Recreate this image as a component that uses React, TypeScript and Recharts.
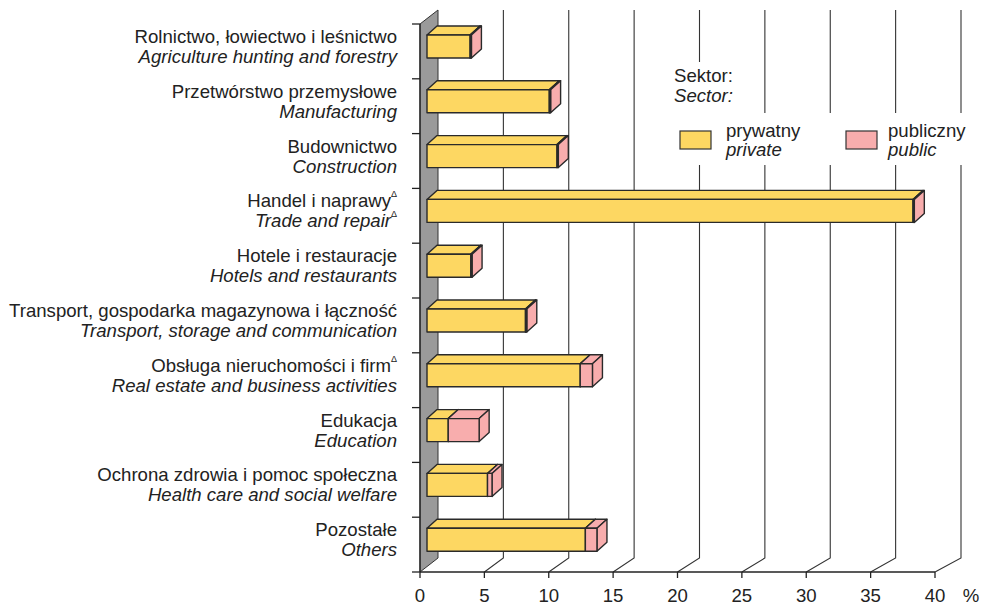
import React from "react";
import { BarChart, Bar, XAxis, YAxis, CartesianGrid, Legend } from "recharts";

document.body.style.margin = "0";
document.body.style.overflow = "hidden";

const SECTORS_PL = [
  "Rolnictwo, łowiectwo i leśnictwo",
  "Przetwórstwo przemysłowe",
  "Budownictwo",
  "Handel i naprawy",
  "Hotele i restauracje",
  "Transport, gospodarka magazynowa i łączność",
  "Obsługa nieruchomości i firm",
  "Edukacja",
  "Ochrona zdrowia i pomoc społeczna",
  "Pozostałe",
];
const SECTORS_EN = [
  "Agriculture hunting and forestry",
  "Manufacturing",
  "Construction",
  "Trade and repair",
  "Hotels and restaurants",
  "Transport, storage and communication",
  "Real estate and business activities",
  "Education",
  "Health care and social welfare",
  "Others",
];
// which lines carry the small triangle mark: [polish, english]
const MARKS: [boolean, boolean][] = [
  [false, false], [false, false], [false, false], [true, true], [false, false],
  [false, false], [true, false], [false, false], [false, false], [false, false],
];
const PRIVATE = [3.35, 9.5, 10.1, 37.75, 3.4, 7.65, 11.9, 1.65, 4.7, 12.3];
const PUBLIC = [0.1, 0.1, 0.1, 0.1, 0.1, 0.1, 0.95, 2.4, 0.35, 0.9];
const X_TICKS = [0, 5, 10, 15, 20, 25, 30, 35, 40];

const LEGEND_TITLE = ["Sektor:", "Sector:"];
const LEGEND_PL = ["prywatny", "publiczny"];
const LEGEND_EN = ["private", "public"];

const YELLOW = "#fdd762";
const PINK = "#f8adad";
const INK = "#222";
const FONT = "'Liberation Sans', Arial, sans-serif";
const FS = 18.6;

const W = 981;
const H = 606;
const PLOT_LEFT = 420;
const PLOT_RIGHT = 935;
const PLOT_TOP = 24;
const PLOT_BOTTOM = 572;
const BAND = (PLOT_BOTTOM - PLOT_TOP) / SECTORS_PL.length;

// 3D depth of the back wall and of the bars
const WALL_DX = 18;
const WALL_DX_EXTRA = 8;
const WALL_DY = 14;
const BAR_DX = 10;
const BAR_DY = 9;

const data = SECTORS_PL.map((name, i) => ({
  name,
  private: PRIVATE[i],
  public: PUBLIC[i],
}));

function Box(props: any) {
  const { x, y, width, height, fill } = props;
  if (x == null || width == null || !(width > 0)) return null;
  const fx = x + 7;
  const fy = y - 5;
  const w = width;
  const h = height;
  const top = `${fx},${fy} ${fx + BAR_DX},${fy - BAR_DY} ${fx + w + BAR_DX},${fy - BAR_DY} ${fx + w},${fy}`;
  const side = `${fx + w},${fy} ${fx + w + BAR_DX},${fy - BAR_DY} ${fx + w + BAR_DX},${fy + h - BAR_DY} ${fx + w},${fy + h}`;
  return (
    <g stroke="#2a2a2a" strokeWidth={1.4} strokeLinejoin="round">
      <polygon points={top} fill={fill} />
      <polygon points={side} fill={fill} />
      <rect x={fx} y={fy} width={w} height={h} fill={fill} />
    </g>
  );
}

function GridLine(props: any) {
  const { x1, y1, y2 } = props;
  if (x1 == null) return <g />;
  const t = (x1 - PLOT_LEFT) / (PLOT_RIGHT - PLOT_LEFT);
  const dx = WALL_DX + t * WALL_DX_EXTRA;
  if (Math.abs(x1 - PLOT_LEFT) < 0.5) {
    return (
      <polygon
        points={`${x1},${y1} ${x1 + dx},${y1 - WALL_DY} ${x1 + dx},${y2 - WALL_DY} ${x1},${y2}`}
        fill="#9a9a9a"
        stroke="#333"
        strokeWidth={1}
      />
    );
  }
  return (
    <polyline
      points={`${x1 + dx},${y1 - WALL_DY} ${x1 + dx},${y2 - WALL_DY} ${x1},${y2}`}
      fill="none"
      stroke="#333"
      strokeWidth={1.1}
    />
  );
}

function XTick(props: any) {
  const { x, y, payload, index } = props;
  const last = index === X_TICKS.length - 1;
  return (
    <g>
      <line x1={x} y1={y} x2={x} y2={y + 6} stroke={INK} strokeWidth={1.3} />
      <text x={x} y={y + 30} textAnchor="middle" fontSize={FS} fontFamily={FONT} fill={INK}>
        {payload.value}
      </text>
      {last && (
        <text x={x + 36} y={y + 30} textAnchor="middle" fontSize={FS} fontFamily={FONT} fill={INK}>
          %
        </text>
      )}
    </g>
  );
}

function YTick(props: any) {
  const { x, y, index } = props;
  const i = index as number;
  const tx = x - 23;
  const [m1, m2] = MARKS[i];
  return (
    <g>
      <line x1={x - 8} y1={y - BAND / 2} x2={x} y2={y - BAND / 2} stroke={INK} strokeWidth={1.3} />
      {i === SECTORS_PL.length - 1 && (
        <line x1={x - 8} y1={y + BAND / 2} x2={x} y2={y + BAND / 2} stroke={INK} strokeWidth={1.3} />
      )}
      <text x={tx} y={y - 8.5} textAnchor="end" fontSize={FS} fontFamily={FONT} fill={INK}>
        {SECTORS_PL[i]}
        {m1 && (
          <tspan fontSize={9} dy={-10}>
            Δ
          </tspan>
        )}
      </text>
      <text x={tx} y={y + 11.5} textAnchor="end" fontSize={FS} fontFamily={FONT} fontStyle="italic" fill={INK}>
        {SECTORS_EN[i]}
        {m2 && (
          <tspan fontSize={9} fontStyle="normal" dy={-10}>
            Δ
          </tspan>
        )}
      </text>
    </g>
  );
}

function SectorLegend() {
  const colors = [YELLOW, PINK];
  return (
    <svg width={320} height={110} style={{ display: "block" }}>
      <rect x={5} y={2} width={80} height={52} fill="#fff" />
      <rect x={5} y={53} width={300} height={52} fill="#fff" />
      <text x={14} y={22} fontSize={FS} fontFamily={FONT} fill={INK}>
        {LEGEND_TITLE[0]}
      </text>
      <text x={14} y={42} fontSize={FS} fontFamily={FONT} fontStyle="italic" fill={INK}>
        {LEGEND_TITLE[1]}
      </text>
      {LEGEND_PL.map((label, i) => {
        const bx = i === 0 ? 20 : 186;
        const tx = i === 0 ? 66 : 228;
        return (
          <g key={label}>
            <rect x={bx} y={71} width={31} height={18} fill={colors[i]} stroke="#333" strokeWidth={1.2} />
            <text x={tx} y={77} fontSize={FS} fontFamily={FONT} fill={INK}>
              {label}
            </text>
            <text x={tx} y={96} fontSize={FS} fontFamily={FONT} fontStyle="italic" fill={INK}>
              {LEGEND_EN[i]}
            </text>
          </g>
        );
      })}
    </svg>
  );
}

export default function App() {
  return (
    <div style={{ width: W, height: H, background: "#fff", position: "relative" }}>
      <BarChart
        width={W}
        height={H}
        data={data}
        layout="vertical"
        barSize={23}
        margin={{ top: PLOT_TOP, right: W - PLOT_RIGHT, bottom: 0, left: 0 }}
      >
        <CartesianGrid
          horizontal={false}
          vertical={(p: any) => <GridLine key={p.key} {...p} />}
          fill="none"
        />
        <XAxis
          type="number"
          domain={[0, 40]}
          ticks={X_TICKS}
          interval={0}
          height={H - PLOT_BOTTOM}
          axisLine={{ stroke: INK, strokeWidth: 1.5 }}
          tickLine={false}
          tickSize={0}
          tickMargin={0}
          tick={<XTick />}
        />
        <YAxis
          type="category"
          dataKey="name"
          width={PLOT_LEFT}
          interval={0}
          axisLine={{ stroke: INK, strokeWidth: 1.3 }}
          tickLine={false}
          tickSize={0}
          tickMargin={0}
          tick={<YTick />}
        />
        <Legend
          layout="vertical"
          align="center"
          verticalAlign="middle"
          content={() => <SectorLegend />}
          wrapperStyle={{ position: "absolute", left: 660, top: 60, width: 320, height: 110 }}
        />
        <Bar dataKey="private" name="prywatny" stackId="s" fill={YELLOW} shape={<Box />} isAnimationActive={false} />
        <Bar dataKey="public" name="publiczny" stackId="s" fill={PINK} shape={<Box />} isAnimationActive={false} />
      </BarChart>
    </div>
  );
}
